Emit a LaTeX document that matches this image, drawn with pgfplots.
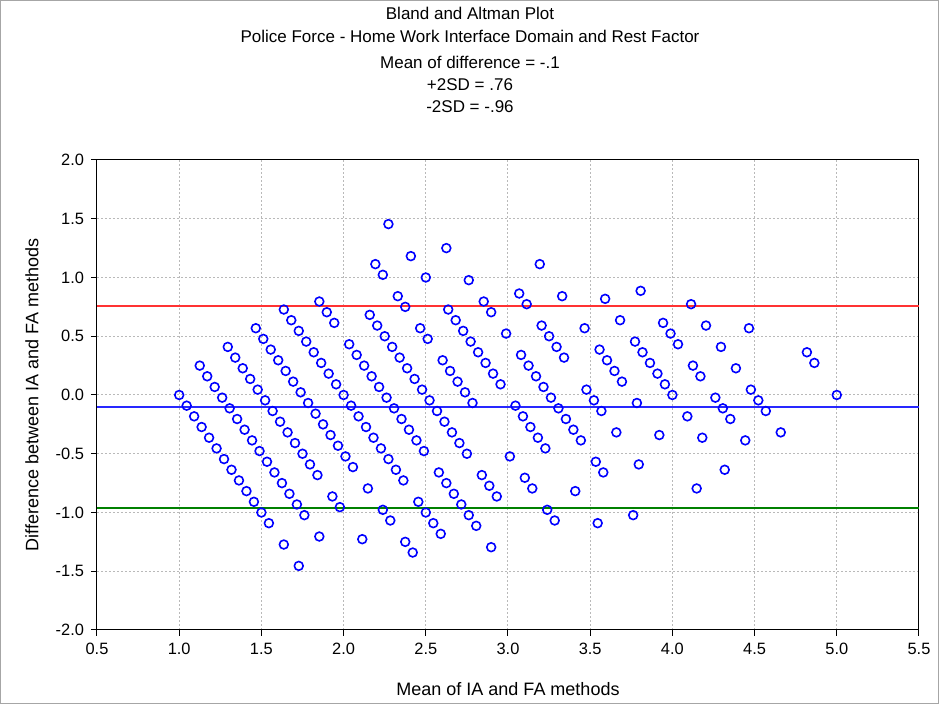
\documentclass[border=0pt]{standalone}
\usepackage{pgfplots}
\pgfplotsset{compat=1.18}
\usepackage{fontspec}
\setmainfont{Liberation Sans}
\definecolor{ptblue}{RGB}{0,0,255}
\definecolor{sdred}{RGB}{255,50,50}
\definecolor{meanblue}{RGB}{40,40,255}
\definecolor{sdgreen}{RGB}{0,128,0}
\definecolor{gridgray}{RGB}{185,185,185}
\pgfplotstableread{
m d
1.0000 0.0000
1.0455 -0.0909
1.0909 -0.1818
1.1364 -0.2727
1.1818 -0.3636
1.2273 -0.4545
1.2727 -0.5455
1.3182 -0.6364
1.3636 -0.7273
1.4091 -0.8182
1.4545 -0.9091
1.5000 -1.0000
1.5455 -1.0909
1.6364 -1.2727
1.7273 -1.4545
1.1250 0.2500
1.1705 0.1591
1.2159 0.0682
1.2614 -0.0227
1.3068 -0.1136
1.3523 -0.2045
1.3977 -0.2955
1.4432 -0.3864
1.4886 -0.4773
1.5341 -0.5682
1.5795 -0.6591
1.6250 -0.7500
1.6705 -0.8409
1.7159 -0.9318
1.7614 -1.0227
1.8523 -1.2045
1.2955 0.4091
1.3409 0.3182
1.3864 0.2273
1.4318 0.1364
1.4773 0.0455
1.5227 -0.0455
1.5682 -0.1364
1.6136 -0.2273
1.6591 -0.3182
1.7045 -0.4091
1.7500 -0.5000
1.7955 -0.5909
1.8409 -0.6818
1.9318 -0.8636
1.9773 -0.9545
2.1136 -1.2273
1.4659 0.5682
1.5114 0.4773
1.5568 0.3864
1.6023 0.2955
1.6477 0.2045
1.6932 0.1136
1.7386 0.0227
1.7841 -0.0682
1.8295 -0.1591
1.8750 -0.2500
1.9205 -0.3409
1.9659 -0.4318
2.0114 -0.5227
2.0568 -0.6136
2.1477 -0.7955
2.2386 -0.9773
2.2841 -1.0682
2.3750 -1.2500
2.4205 -1.3409
1.6364 0.7273
1.6818 0.6364
1.7273 0.5455
1.7727 0.4545
1.8182 0.3636
1.8636 0.2727
1.9091 0.1818
1.9545 0.0909
2.0000 0.0000
2.0455 -0.0909
2.0909 -0.1818
2.1364 -0.2727
2.1818 -0.3636
2.2273 -0.4545
2.2727 -0.5455
2.3182 -0.6364
2.3636 -0.7273
2.4545 -0.9091
2.5000 -1.0000
2.5455 -1.0909
2.5909 -1.1818
1.8523 0.7955
1.8977 0.7045
1.9432 0.6136
2.0341 0.4318
2.0795 0.3409
2.1250 0.2500
2.1705 0.1591
2.2159 0.0682
2.2614 -0.0227
2.3068 -0.1136
2.3523 -0.2045
2.3977 -0.2955
2.4432 -0.3864
2.4886 -0.4773
2.5795 -0.6591
2.6250 -0.7500
2.6705 -0.8409
2.7159 -0.9318
2.7614 -1.0227
2.8068 -1.1136
2.8977 -1.2955
2.1591 0.6818
2.2045 0.5909
2.2500 0.5000
2.2955 0.4091
2.3409 0.3182
2.3864 0.2273
2.4318 0.1364
2.4773 0.0455
2.5227 -0.0455
2.5682 -0.1364
2.6136 -0.2273
2.6591 -0.3182
2.7045 -0.4091
2.7500 -0.5000
2.8409 -0.6818
2.8864 -0.7727
2.9318 -0.8636
2.1932 1.1136
2.2386 1.0227
2.3295 0.8409
2.3750 0.7500
2.4659 0.5682
2.5114 0.4773
2.6023 0.2955
2.6477 0.2045
2.6932 0.1136
2.7386 0.0227
2.7841 -0.0682
3.0114 -0.5227
3.1023 -0.7045
3.1477 -0.7955
3.2386 -0.9773
3.2841 -1.0682
2.2727 1.4545
2.4091 1.1818
2.5000 1.0000
2.6364 0.7273
2.6818 0.6364
2.7273 0.5455
2.7727 0.4545
2.8182 0.3636
2.8636 0.2727
2.9091 0.1818
2.9545 0.0909
3.0455 -0.0909
3.0909 -0.1818
3.1364 -0.2727
3.1818 -0.3636
3.2273 -0.4545
3.4091 -0.8182
3.5455 -1.0909
2.6250 1.2500
2.7614 0.9773
2.8523 0.7955
2.8977 0.7045
2.9886 0.5227
3.0795 0.3409
3.1250 0.2500
3.1705 0.1591
3.2159 0.0682
3.2614 -0.0227
3.3068 -0.1136
3.3523 -0.2045
3.3977 -0.2955
3.4432 -0.3864
3.5341 -0.5682
3.5795 -0.6591
3.7614 -1.0227
3.0682 0.8636
3.1136 0.7727
3.2045 0.5909
3.2500 0.5000
3.2955 0.4091
3.3409 0.3182
3.4773 0.0455
3.5227 -0.0455
3.5682 -0.1364
3.6591 -0.3182
3.7955 -0.5909
3.1932 1.1136
3.3295 0.8409
3.4659 0.5682
3.5568 0.3864
3.6023 0.2955
3.6477 0.2045
3.6932 0.1136
3.7841 -0.0682
3.9205 -0.3409
4.1477 -0.7955
3.5909 0.8182
3.6818 0.6364
3.7727 0.4545
3.8182 0.3636
3.8636 0.2727
3.9091 0.1818
3.9545 0.0909
4.0000 0.0000
4.0909 -0.1818
4.1818 -0.3636
4.3182 -0.6364
3.8068 0.8864
3.9432 0.6136
3.9886 0.5227
4.0341 0.4318
4.1250 0.2500
4.1705 0.1591
4.2614 -0.0227
4.3068 -0.1136
4.3523 -0.2045
4.4432 -0.3864
4.1136 0.7727
4.2045 0.5909
4.2955 0.4091
4.3864 0.2273
4.4773 0.0455
4.5227 -0.0455
4.5682 -0.1364
4.6591 -0.3182
4.4659 0.5682
4.8182 0.3636
4.8636 0.2727
5.0000 0.0000
}\ptdata
\begin{document}
\begin{tikzpicture}[x=1pt,y=1pt]
\path[use as bounding box] (0,0) rectangle (469.5,352);
\draw[black!35, line width=0.5pt] (0.25,0.25) rectangle (469.25,351.75);
\begin{scope}[every node/.style={font=\fontsize{8.5}{10}\selectfont}]
\node at (235,345.5) {Bland and Altman Plot};
\node at (235,334) {Police Force - Home Work Interface Domain and Rest Factor};
\node at (235,321) {Mean of difference = -.1};
\node at (235,309.5) {+2SD = .76};
\node at (235,298.5) {-2SD = -.96};
\end{scope}
\begin{axis}[
  at={(48.5pt,37pt)}, anchor=south west,
  scale only axis, width=411pt, height=235pt,
  xmin=0.5, xmax=5.5, ymin=-2, ymax=2,
  xtick={0.5,1,1.5,2,2.5,3,3.5,4,4.5,5,5.5},
  xticklabels={0.5,1.0,1.5,2.0,2.5,3.0,3.5,4.0,4.5,5.0,5.5},
  ytick={-2,-1.5,-1,-0.5,0,0.5,1,1.5,2},
  yticklabels={-2.0,-1.5,-1.0,-0.5,0.0,0.5,1.0,1.5,2.0},
  tick label style={font=\fontsize{8.2}{10}\selectfont},
  label style={font=\fontsize{9}{11}\selectfont},
  tick align=outside, tick pos=left, major tick length=3pt,
  axis line style={black, line width=0.5pt},
  every tick/.style={black, line width=0.5pt},
  grid=major,
  major grid style={gridgray, dash pattern=on 1pt off 1pt, line width=0.5pt},
  xlabel={Mean of IA and FA methods},
  ylabel={Difference between IA and FA methods},
  xlabel style={at={(axis description cs:0.5,-0.1255)}, anchor=center},
  ylabel style={at={(axis description cs:-0.079,0.5)}, anchor=center},
  clip=true,
]
\addplot[sdred, line width=1pt] coordinates {(0.5,0.76) (5.5,0.76)};
\addplot[meanblue, line width=1pt] coordinates {(0.5,-0.1) (5.5,-0.1)};
\addplot[sdgreen, line width=1pt] coordinates {(0.5,-0.96) (5.5,-0.96)};
\addplot[only marks, mark=o, mark size=2.2pt, ptblue, line width=0.8pt] table[x=m, y=d] {\ptdata};
\end{axis}
\end{tikzpicture}
\end{document}
